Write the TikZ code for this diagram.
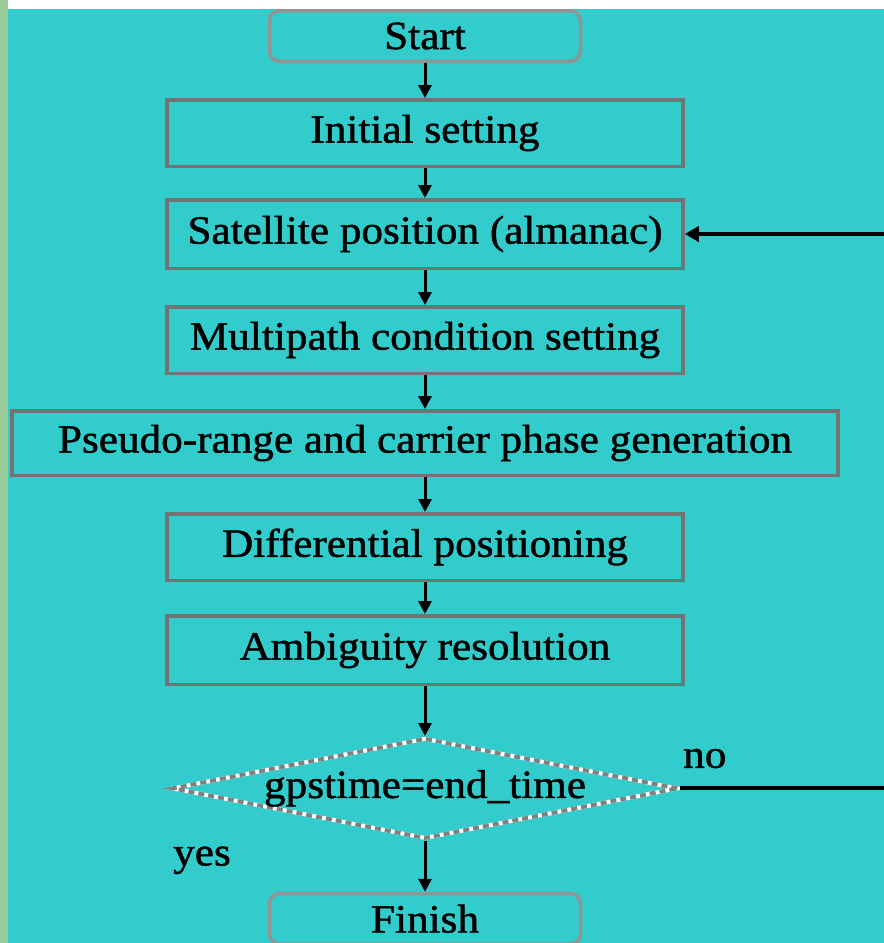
\documentclass[tikz,border=0pt]{standalone}
\usepackage{fontspec}
\setmainfont{Liberation Serif}[FakeStretch=1.08, FakeBold=1.2]
\usetikzlibrary{positioning, shapes.geometric, arrows.meta, calc}
\definecolor{bgcyan}{RGB}{51,204,204}
\definecolor{stripgreen}{RGB}{153,204,153}
\definecolor{rimgray}{RGB}{115,115,115}

\begin{document}
\begin{tikzpicture}[
    x=1pt, y=1pt,
    font=\fontsize{40}{48}\selectfont,
    stepbox/.style={
        draw=rimgray,
        rectangle,
        line width=3.5pt,
        minimum width=516pt,
        minimum height=66.5pt,
        inner sep=0pt,
        align=center
    },
    terminal/.style={
        stepbox,
        draw=gray!85,
        rounded corners=10pt,
        minimum width=311pt,
        minimum height=50.5pt
    },
    decision/.style={
        diamond,
        draw=white,
        line width=4pt,
        postaction={draw=gray, dash pattern=on 6pt off 4pt, line width=4pt},
        aspect=5,
        inner sep=0pt,
        minimum width=506pt,
        minimum height=100pt
    },
    arrow/.style={
        -{Triangle[length=13pt,width=13pt]},
        line width=3pt
    },
    loopline/.style={
        -{Triangle[length=14pt,width=15pt]},
        line width=4pt
    },
    tag/.style={
        inner sep=0pt
    }
]

% Background
\useasboundingbox (0,0) rectangle (884,-943);
\fill[bgcyan] (0,0) rectangle (884,-943);
\fill[stripgreen] (0,0) rectangle (8,-943);
\fill[white] (8,0) rectangle (884,-9);

% Flow
\node[terminal] (start) at (425,-36) {Start};
\node[stepbox, below=35pt of start] (init) {Initial setting};
\node[stepbox, minimum height=68.5pt, below=30pt of init] (sat) {Satellite position (almanac)};
\node[stepbox, below=35pt of sat] (multi) {Multipath condition setting};
\node[stepbox, minimum width=826pt, minimum height=64.5pt, below=34pt of multi] (pseudo) {Pseudo-range and carrier phase generation};
\node[stepbox, below=35pt of pseudo] (diff) {Differential positioning};
\node[stepbox, minimum height=68.5pt, below=32pt of diff] (amb) {Ambiguity resolution};
\node[decision, below=50pt of amb] (check) {gpstime=end\_time};
\node[terminal, below=51pt of check] (finish) {Finish};

% Labels
\node[tag, above right=20pt and 3pt of check.east] (no) {no};
\node[tag, below right=58pt and 3pt of check.west, anchor=north west] (yes) {yes};

% Connections
\draw[arrow] (start) -- (init);
\draw[arrow] (init) -- (sat);
\draw[arrow] (sat) -- (multi);
\draw[arrow] (multi) -- (pseudo);
\draw[arrow] (pseudo) -- (diff);
\draw[arrow] (diff) -- (amb);
\draw[arrow] (amb) -- (check);
\draw[arrow] (check) -- (finish);

% Loop back (runs off the right edge)
\coordinate[right=215pt of check.east] (loopturn);
\draw[loopline] (check.east) -- (loopturn) |- (sat.east);

\end{tikzpicture}
\end{document}
